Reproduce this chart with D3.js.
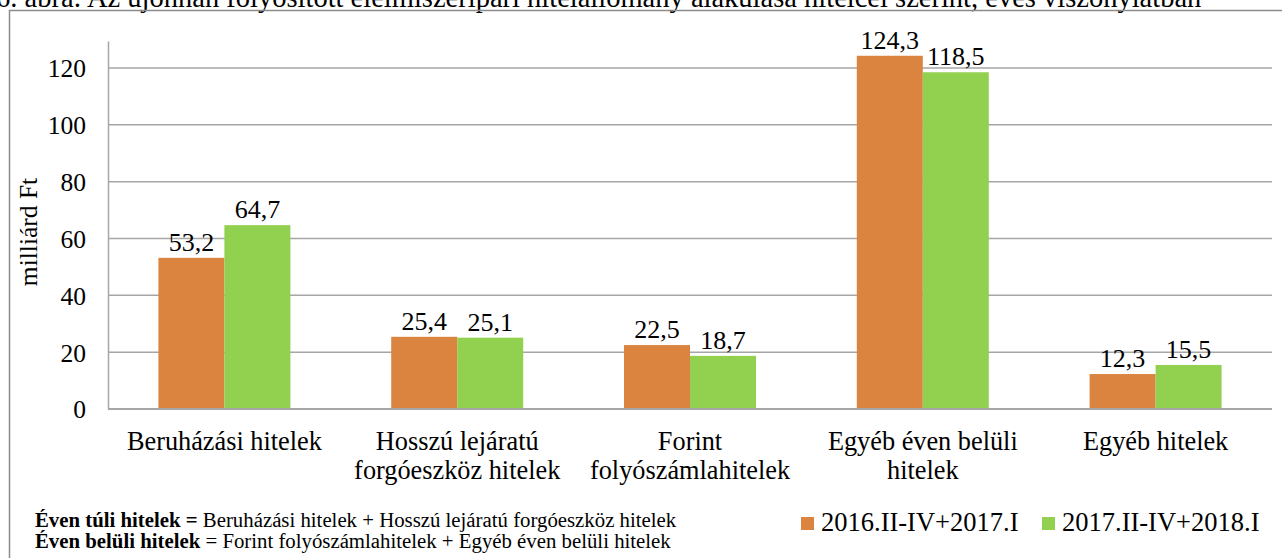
<!DOCTYPE html>
<html>
<head>
<meta charset="utf-8">
<script src="https://cdn.jsdelivr.net/npm/d3@7"></script>
<style>
  body { margin: 0; background: #fff; }
</style>
</head>
<body>
<div id="chart"></div>
<script>
// chart data
const categories = [
  ["Beruházási hitelek"],
  ["Hosszú lejáratú", "forgóeszköz hitelek"],
  ["Forint", "folyószámlahitelek"],
  ["Egyéb éven belüli", "hitelek"],
  ["Egyéb hitelek"]
];
const seriesNames = ["2016.II-IV+2017.I", "2017.II-IV+2018.I"];
const series1 = [53.2, 25.4, 22.5, 124.3, 12.3];
const series2 = [64.7, 25.1, 18.7, 118.5, 15.5];
const yTicks = [0, 20, 40, 60, 80, 100, 120];
const colors = ["#DB843F", "#92D050"];

const FONT = "'Liberation Serif', 'Times New Roman', serif";
const W = 1282, H = 558;
const svg = d3.select("#chart").append("svg")
  .attr("width", W).attr("height", H);

// title, cut at the top edge in the original
svg.append("text")
  .attr("x", -4).attr("y", 7)
  .style("font-size", "28.5px")
  .text("6. ábra: Az újonnan folyósított élelmiszeripari hitelállomány alakulása hitelcél szerint, éves viszonylatban");

// chart frame
svg.append("rect")
  .attr("x", 9.5).attr("y", 10.5)
  .attr("width", W + 10).attr("height", H + 10)
  .attr("fill", "none").attr("stroke", "#8c8c8c").attr("stroke-width", 1.5);

const plot = { left: 108, right: 1272, top: 41, bottom: 409 };

const x = d3.scaleBand()
  .domain(d3.range(categories.length))
  .range([plot.left, plot.right])
  .paddingInner(0.433).paddingOuter(0.2165);
const xs = d3.scaleBand().domain([0, 1]).range([0, x.bandwidth()]);
const y = d3.scaleLinear().domain([0, 129.5]).range([plot.bottom, plot.top]);

// gridlines
svg.append("g").selectAll("line")
  .data(yTicks.slice(1))
  .join("line")
  .attr("x1", plot.left).attr("x2", plot.right)
  .attr("y1", d => y(d)).attr("y2", d => y(d))
  .attr("stroke", "#a6a6a6").attr("stroke-width", 1.5);

// y axis
const yAxis = svg.append("g")
  .attr("transform", `translate(${plot.left},0)`)
  .call(d3.axisLeft(y).tickValues(yTicks).tickSize(0).tickPadding(22));
yAxis.select(".domain").attr("stroke", "#a6a6a6").attr("stroke-width", 1.5);
yAxis.selectAll("text").style("font-size", "25.5px").attr("dy", "0.35em");

svg.append("text")
  .attr("transform", `translate(37,${(plot.top + plot.bottom) / 2 + 7}) rotate(-90)`)
  .attr("text-anchor", "middle")
  .style("font-size", "25.5px")
  .text("milliárd Ft");

// bars
const data = [series1, series2];
data.forEach((vals, s) => {
  const g = svg.append("g");
  g.selectAll("rect")
    .data(vals)
    .join("rect")
    .attr("x", (d, i) => x(i) + xs(s))
    .attr("width", xs.bandwidth())
    .attr("y", d => y(d))
    .attr("height", d => y(0) - y(d))
    .attr("fill", colors[s]);
  g.selectAll("text")
    .data(vals)
    .join("text")
    .attr("x", (d, i) => x(i) + xs(s) + xs.bandwidth() / 2)
    .attr("y", d => y(d) - 7)
    .attr("text-anchor", "middle")
    .style("font-size", "26px")
    .text(d => d.toFixed(1).replace(".", ","));
});

// baseline
svg.append("line")
  .attr("x1", plot.left).attr("x2", plot.right)
  .attr("y1", y(0)).attr("y2", y(0))
  .attr("stroke", "#a6a6a6").attr("stroke-width", 2);

// category labels
const cat = svg.append("g").selectAll("text")
  .data(categories)
  .join("text")
  .attr("text-anchor", "middle")
  .style("font-size", "26.3px")
  .attr("transform", (d, i) => `translate(${x(i) + x.bandwidth() / 2},450)`);
cat.selectAll("tspan")
  .data(d => d)
  .join("tspan")
  .attr("x", 0)
  .attr("dy", (d, j) => j === 0 ? 0 : 29)
  .text(d => d);

// notes
const notes = [
  ["Éven túli hitelek =", " Beruházási hitelek + Hosszú lejáratú forgóeszköz hitelek"],
  ["Éven belüli hitelek", " = Forint folyószámlahitelek + Egyéb éven belüli hitelek"]
];
svg.append("g").selectAll("text")
  .data(notes)
  .join("text")
  .attr("x", 35)
  .attr("y", (d, i) => 527 + i * 21)
  .style("font-size", "20.8px")
  .each(function (d) {
    d3.select(this).append("tspan").style("font-weight", "bold").text(d[0]);
    d3.select(this).append("tspan").text(d[1]);
  });

// legend
const legendX = [801, 1042];
const leg = svg.append("g").selectAll("g")
  .data(seriesNames)
  .join("g")
  .attr("transform", (d, i) => `translate(${legendX[i]},517)`);
leg.append("rect")
  .attr("width", 13).attr("height", 13)
  .attr("fill", (d, i) => colors[i]);
leg.append("text")
  .attr("x", 20).attr("y", 14)
  .style("font-size", "26.5px")
  .text(d => d);

// same serif face everywhere
svg.selectAll("text").style("font-family", FONT).attr("fill", "#000");
</script>
</body>
</html>
